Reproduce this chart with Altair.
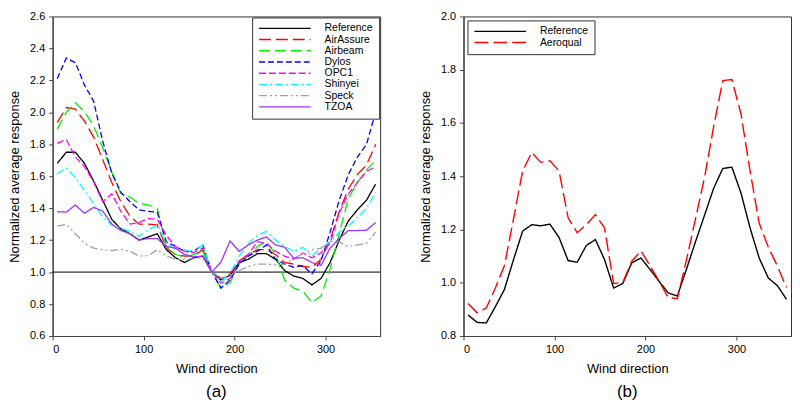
import altair as alt
import pandas as pd

wind = [5, 15, 25, 35, 45, 55, 65, 75, 85, 95, 105, 115, 125, 135, 145, 155, 165, 175,
        185, 195, 205, 215, 225, 235, 245, 255, 265, 275, 285, 295, 305, 315, 325, 335, 345, 355]

# Panel (a)
ref_a = [1.68, 1.75, 1.75, 1.68, 1.57, 1.45, 1.33, 1.27, 1.24, 1.20, 1.22, 1.24, 1.14, 1.09, 1.06, 1.09, 1.10, 1.00,
         0.95, 0.98, 1.06, 1.08, 1.115, 1.115, 1.08, 1.01, 0.975, 0.96, 0.92, 0.96, 1.06, 1.20, 1.32, 1.39, 1.45, 1.55]
airassure = [1.935, 2.03, 2.02, 1.945, 1.845, 1.705, 1.56, 1.44, 1.35, 1.30, 1.30, 1.295, 1.15, 1.11, 1.10, 1.10, 1.14, 1.00,
             0.96, 0.99, 1.07, 1.11, 1.14, 1.14, 1.11, 1.06, 1.05, 1.035, 1.03, 1.08, 1.20, 1.38, 1.52, 1.61, 1.67, 1.80]
airbeam = [1.895, 2.00, 2.06, 2.005, 1.915, 1.78, 1.625, 1.49, 1.47, 1.43, 1.42, 1.40, 1.16, 1.11, 1.095, 1.11, 1.13, 1.00,
           0.90, 0.935, 1.05, 1.10, 1.16, 1.19, 1.11, 0.95, 0.90, 0.88, 0.81, 0.85, 1.02, 1.24, 1.46, 1.56, 1.64, 1.70]
dylos = [2.21, 2.34, 2.31, 2.17, 2.07, 1.82, 1.62, 1.50, 1.44, 1.39, 1.38, 1.375, 1.19, 1.16, 1.13, 1.13, 1.17, 1.00,
         0.90, 0.95, 1.05, 1.10, 1.13, 1.17, 1.08, 1.05, 1.03, 1.04, 0.99, 1.07, 1.25, 1.45, 1.61, 1.72, 1.80, 2.00]
opc1 = [1.806, 1.83, 1.72, 1.66, 1.565, 1.44, 1.49, 1.38, 1.30, 1.31, 1.335, 1.33, 1.23, 1.16, 1.13, 1.12, 1.15, 1.00,
        0.93, 0.96, 1.07, 1.11, 1.19, 1.18, 1.13, 1.10, 1.08, 1.12, 1.09, 1.12, 1.18, 1.37, 1.49, 1.56, 1.63, 1.66]
shinyei = [1.615, 1.653, 1.59, 1.51, 1.43, 1.345, 1.295, 1.275, 1.255, 1.225, 1.265, 1.295, 1.18, 1.14, 1.14, 1.125, 1.17, 1.00,
           0.94, 0.99, 1.10, 1.18, 1.23, 1.255, 1.20, 1.16, 1.13, 1.155, 1.10, 1.15, 1.19, 1.25, 1.29, 1.34, 1.40, 1.50]
speck = [1.288, 1.298, 1.24, 1.18, 1.15, 1.14, 1.135, 1.143, 1.13, 1.10, 1.103, 1.14, 1.10, 1.08, 1.08, 1.083, 1.09, 1.00,
         0.96, 0.98, 1.01, 1.035, 1.05, 1.05, 1.045, 1.05, 1.085, 1.115, 1.14, 1.15, 1.19, 1.19, 1.16, 1.17, 1.18, 1.25]
tzoa = [1.378, 1.375, 1.42, 1.368, 1.405, 1.382, 1.30, 1.26, 1.24, 1.20, 1.21, 1.21, 1.16, 1.15, 1.11, 1.095, 1.10, 1.00,
        1.063, 1.195, 1.13, 1.17, 1.20, 1.22, 1.17, 1.155, 1.087, 1.09, 1.06, 1.042, 1.15, 1.21, 1.26, 1.26, 1.262, 1.31]

# Panel (b)
ref_b = [0.879, 0.851, 0.849, 0.91, 0.975, 1.087, 1.194, 1.218, 1.214, 1.22, 1.17, 1.083, 1.077, 1.14, 1.162, 1.087, 0.98, 0.997,
         1.075, 1.093, 1.05, 1.005, 0.962, 0.95, 1.05, 1.154, 1.254, 1.355, 1.429, 1.434, 1.337, 1.206, 1.093, 1.018, 0.989, 0.938]
aeroqual = [0.922, 0.887, 0.905, 0.98, 1.065, 1.24, 1.42, 1.489, 1.452, 1.458, 1.42, 1.244, 1.188, 1.218, 1.256, 1.206, 0.997, 1.0,
            1.081, 1.12, 1.064, 1.006, 0.944, 0.94, 1.085, 1.24, 1.396, 1.587, 1.759, 1.763, 1.634, 1.42, 1.224, 1.134, 1.063, 0.982]

names_a = ["Reference", "AirAssure", "Airbeam", "Dylos", "OPC1", "Shinyei", "Speck", "TZOA"]
values_a = [ref_a, airassure, airbeam, dylos, opc1, shinyei, speck, tzoa]
colors_a = ["#000000", "#FF0000", "#00EE00", "#0000FF", "#FF00FF", "#00FFFF", "#A0A0A0", "#9933FF"]
dashes_a = [[1, 0], [12, 5], [11, 5], [6, 3], [7, 3], [8, 3, 2, 3], [8, 3, 2, 3, 2, 3], [1, 0]]

names_b = ["Reference", "Aeroqual"]
values_b = [ref_b, aeroqual]
colors_b = ["#000000", "#FF0000"]
dashes_b = [[1, 0], [14, 5]]

baseline_a = [1.0]

FONT = "Liberation Sans"

rows = []
for i, (n, vals) in enumerate(zip(names_a, values_a)):
    for w, v in zip(wind, vals):
        rows.append({"wind": w, "value": v, "series": n, "ord": i})
df_a = pd.DataFrame(rows)
rows = []
for i, (n, vals) in enumerate(zip(names_b, values_b)):
    for w, v in zip(wind, vals):
        rows.append({"wind": w, "value": v, "series": n, "ord": i})
df_b = pd.DataFrame(rows)

W = 330
H = 322


def legend(orient, offset):
    return alt.Legend(
        title=None, orient=orient, offset=offset, symbolType="stroke", symbolSize=2704,
        clipHeight=10, symbolStrokeWidth=1.4, labelFont=FONT, labelFontSize=10.5, labelColor="#000",
        labelAlign="left", labelOffset=13, padding=6, rowPadding=0.3, fillColor="white", strokeColor="#333",
    )


def x_enc():
    return alt.X("wind:Q", scale=alt.Scale(domain=[0, 360], nice=False, zero=False),
                 axis=alt.Axis(values=[0, 100, 200, 300], title="Wind direction", grid=False,
                               tickSize=4, labelPadding=4, titlePadding=8))


def y_enc(lo, hi, ticks):
    return alt.Y("value:Q", scale=alt.Scale(domain=[lo, hi], nice=False, zero=False),
                 axis=alt.Axis(values=ticks, format=".1f", title="Normalized average response",
                               labelOverlap=False, grid=False, tickSize=4, labelPadding=4, titlePadding=8))


ticks_a = [0.6, 0.8, 1.0, 1.2, 1.4, 1.6, 1.8, 2.0, 2.2, 2.4, 2.6]
ticks_b = [0.8, 1.0, 1.2, 1.4, 1.6, 1.8, 2.0]

lines_a = alt.Chart(df_a).mark_line(strokeWidth=1.3).encode(
    x=x_enc(),
    y=y_enc(0.6, 2.6, ticks_a),
    color=alt.Color("series:N", scale=alt.Scale(domain=names_a, range=colors_a), legend=legend("top-right", 1)),
    strokeDash=alt.StrokeDash("series:N", scale=alt.Scale(domain=names_a, range=dashes_a), legend=legend("top-right", 1)),
    order="ord:Q",
)
rule_a = alt.Chart(pd.DataFrame({"value": baseline_a})).mark_rule(color="#000", strokeWidth=1).encode(
    y=y_enc(0.6, 2.6, ticks_a)
)

panel_a = alt.layer(rule_a, lines_a).properties(
    width=W, height=H,
    title=alt.TitleParams("(a)", orient="bottom", font=FONT, fontSize=17, fontWeight="normal", offset=8, anchor="middle"),
)

lines_b = alt.Chart(df_b).mark_line(strokeWidth=1.4).encode(
    x=x_enc(),
    y=y_enc(0.8, 2.0, ticks_b),
    color=alt.Color("series:N", scale=alt.Scale(domain=names_b, range=colors_b), legend=legend("top-left", 4)),
    strokeDash=alt.StrokeDash("series:N", scale=alt.Scale(domain=names_b, range=dashes_b), legend=legend("top-left", 4)),
    order="ord:Q",
)
panel_b = lines_b.properties(
    width=W, height=H,
    title=alt.TitleParams("(b)", orient="bottom", font=FONT, fontSize=17, fontWeight="normal", offset=8, anchor="middle"),
)

chart = alt.hconcat(panel_a, panel_b, spacing=38).resolve_scale(
    color="independent", strokeDash="independent", x="independent", y="independent"
).resolve_legend(color="independent", strokeDash="independent").properties(
    padding={"left": 0, "top": 0, "right": 0, "bottom": 0}
).configure_view(stroke="#333", strokeWidth=1).configure_axis(
    labelFont=FONT, labelFontSize=11, labelColor="#000", titleFont=FONT, titleFontSize=13,
    titleFontWeight="normal", titleColor="#000", domainColor="#444", tickColor="#444", domainWidth=1.2
)

chart.save("out.html", embed_options={"renderer": "svg", "actions": False})
